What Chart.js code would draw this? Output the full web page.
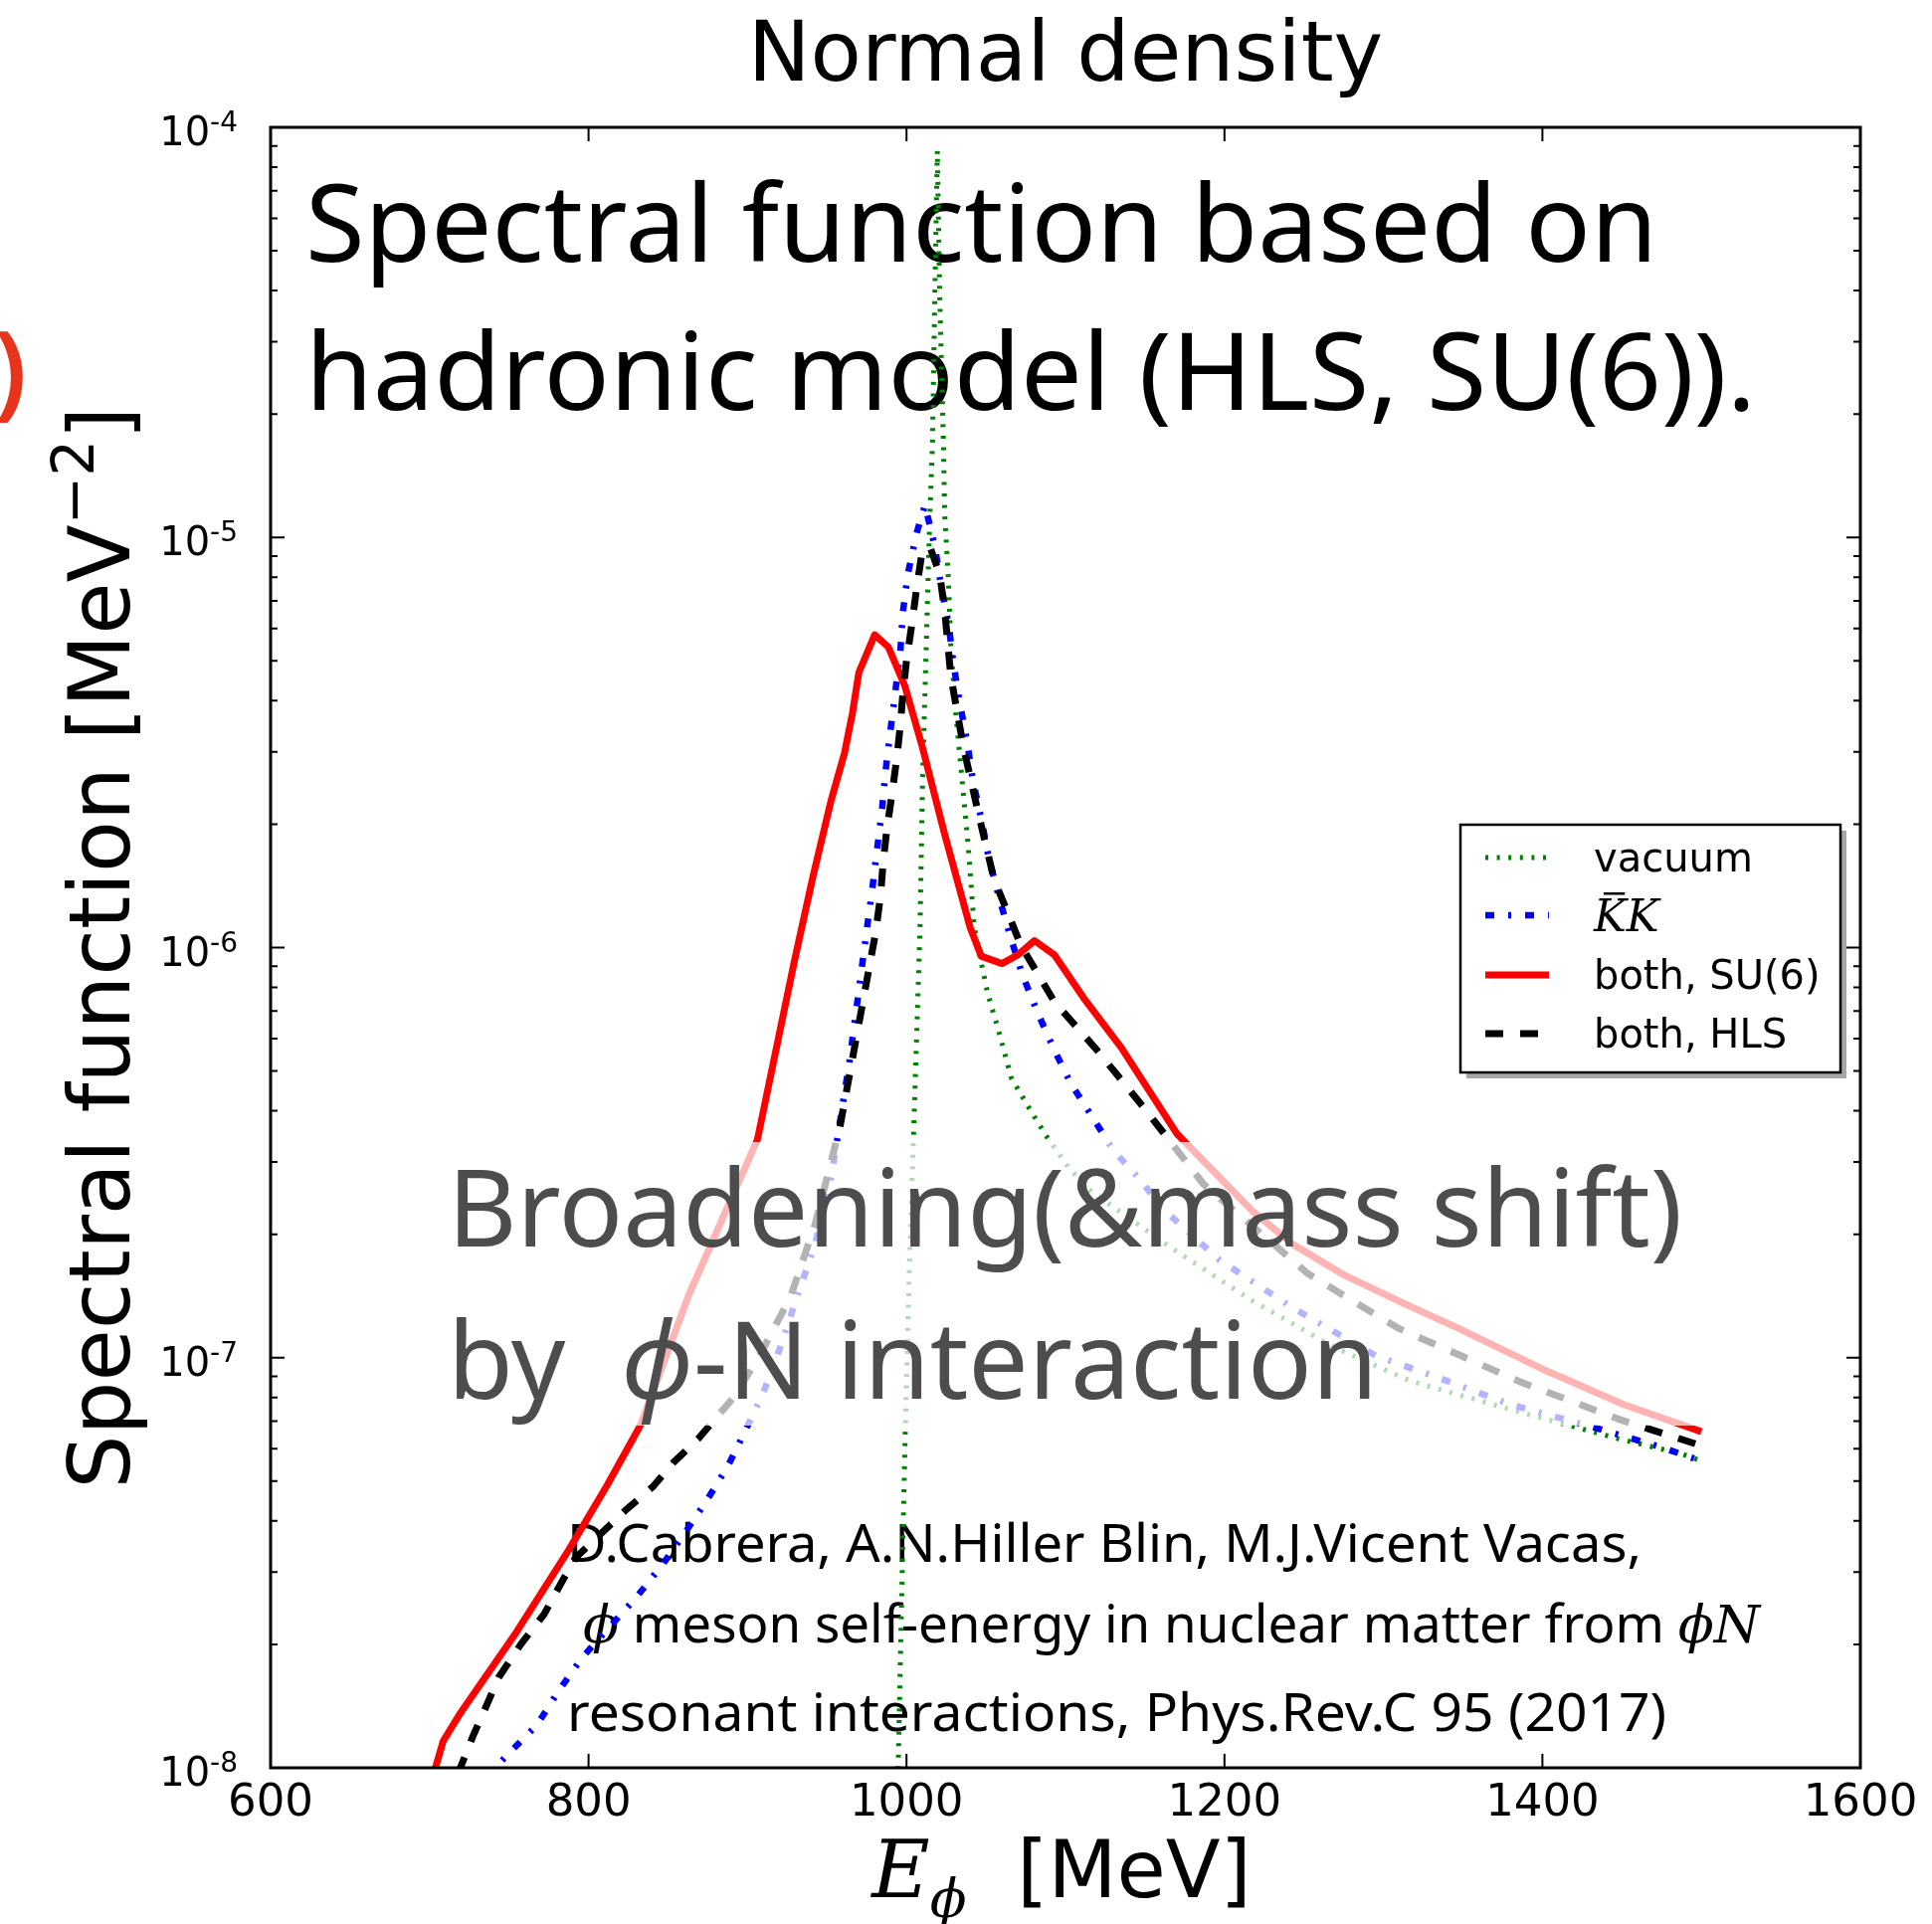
<!DOCTYPE html>
<html>
<head>
<meta charset="utf-8">
<title>Normal density</title>
<script src="https://cdn.jsdelivr.net/npm/chart.js@4.4.1/dist/chart.umd.min.js"></script>
<style>
  html, body { margin: 0; padding: 0; background: #fff; }
  #wrap { width: 1942px; height: 1934px; position: relative; }
</style>
</head>
<body>
<div id="wrap"><canvas id="spectralChart"></canvas></div>
<script>
// axis ticks
const xTicks = [600, 800, 1000, 1200, 1400, 1600]
const yDecades = [-8, -7, -6, -5, -4]
const xMin = 600, xMax = 1600, yMin = 1e-8, yMax = 1e-4

// vacuum
const vacuumE = [994.6, 996.9, 999.2, 1001.6, 1004.7, 1008.5, 1010.1, 1012.4, 1014.7, 1016.3, 1017.8, 1019.4, 1020.9, 1023.3, 1024.0, 1026.4, 1027.9, 1031.0, 1034.9, 1038.8, 1042.6, 1047.3, 1051.2, 1057.4, 1065.9, 1078.3, 1088.4, 1101.6, 1114.0, 1165.9, 1217.1, 1269.0, 1317.1, 1390.7, 1448.1, 1487.6, 1500]
const vacuumA = [9.3e-9, 2.54e-8, 6.56e-8, 1.55e-7, 3.77e-7, 1.11e-6, 2.58e-6, 5.41e-6, 1.14e-5, 1.66e-5, 3.88e-5, 8.77e-5, 3.88e-5, 1.66e-5, 1.14e-5, 7.85e-6, 5.41e-6, 3.72e-6, 2.58e-6, 1.77e-6, 1.12e-6, 9.08e-7, 7.69e-7, 6.38e-7, 4.81e-7, 3.99e-7, 3.45e-7, 2.92e-7, 2.58e-7, 1.86e-7, 1.38e-7, 1.06e-7, 8.77e-8, 7.28e-8, 6.34e-8, 5.83e-8, 5.6e-8]

// KbarK
const kkE = [735.7, 750.4, 767.4, 782.2, 796.1, 830.2, 846.5, 861.2, 874.4, 887.6, 898.4, 910.1, 920.2, 931.8, 942.6, 952.7, 964.3, 975.2, 978.3, 981.4, 984.5, 986.8, 989.9, 993.0, 996.1, 997.7, 1000.8, 1006.2, 1011.6, 1017.8, 1021.7, 1026.4, 1029.5, 1033.3, 1038.0, 1041.9, 1047.3, 1051.9, 1058.1, 1065.1, 1072.9, 1082.2, 1092.2, 1103.1, 1117.1, 1130.2, 1147.3, 1160.5, 1196.9, 1243.4, 1295.3, 1334.1, 1379.8, 1427.9, 1475.2, 1500]
const kkA = [9.5e-9, 1.09e-8, 1.27e-8, 1.56e-8, 1.86e-8, 2.61e-8, 3.13e-8, 3.77e-8, 4.49e-8, 5.44e-8, 6.61e-8, 8.24e-8, 1.05e-7, 1.43e-7, 1.90e-7, 2.76e-7, 5.33e-7, 1.12e-6, 1.37e-6, 1.73e-6, 2.15e-6, 2.69e-6, 3.38e-6, 4.22e-6, 5.26e-6, 6.56e-6, 8.13e-6, 1.02e-5, 1.20e-5, 9.52e-6, 7.64e-6, 6.17e-6, 4.94e-6, 3.99e-6, 3.20e-6, 2.54e-6, 2.04e-6, 1.64e-6, 1.33e-6, 1.07e-6, 8.59e-7, 6.98e-7, 5.71e-7, 4.68e-7, 3.85e-7, 3.20e-7, 2.71e-7, 2.32e-7, 1.73e-7, 1.32e-7, 1.01e-7, 8.95e-8, 7.69e-8, 6.84e-8, 6.04e-8, 5.6e-8]

// both, SU(6)
const su6E = [702, 708.5, 719.4, 753.5, 787.6, 811.6, 832.6, 863.3, 906.2, 929.5, 941, 952.5, 961, 966, 970, 980, 988.5, 999, 1010, 1024, 1040, 1047, 1060, 1070, 1080.5, 1093, 1111.5, 1135, 1170, 1218, 1243, 1274, 1312, 1347, 1403, 1451, 1500]
const su6A = [9.5e-9, 1.16e-8, 1.36e-8, 2.11e-8, 3.40e-8, 4.88e-8, 6.84e-8, 1.43e-7, 3.40e-7, 9.27e-7, 1.48e-6, 2.28e-6, 2.98e-6, 3.73e-6, 4.68e-6, 5.79e-6, 5.41e-6, 4.34e-6, 3.08e-6, 1.89e-6, 1.12e-6, 9.53e-7, 9.14e-7, 9.6e-7, 1.04e-6, 9.6e-7, 7.53e-7, 5.71e-7, 3.52e-7, 2.27e-7, 1.89e-7, 1.60e-7, 1.36e-7, 1.18e-7, 9.27e-8, 7.69e-8, 6.6e-8]

// both, HLS
const hlsE = [717.8, 727.1, 734.1, 743.4, 757.4, 772.1, 781.4, 791.5, 822.5, 840.3, 853.5, 869.0, 890.7, 907.0, 927.1, 942.6, 958.1, 980.6, 983.7, 985.3, 987.6, 990.7, 993.8, 996.1, 997.7, 1000.0, 1003.1, 1006.2, 1009.3, 1014.7, 1020.9, 1024.0, 1027.9, 1035.7, 1045.0, 1055.0, 1072.1, 1093.0, 1120.2, 1147.3, 1162.0, 1186.8, 1252.7, 1309.3, 1386.8, 1448.1, 1500]
const hlsA = [9.66e-9, 1.19e-8, 1.37e-8, 1.66e-8, 2.00e-8, 2.37e-8, 2.76e-8, 3.24e-8, 4.22e-8, 4.84e-8, 5.56e-8, 6.34e-8, 7.96e-8, 1.00e-7, 1.41e-7, 2.12e-7, 3.65e-7, 1.09e-6, 1.34e-6, 1.61e-6, 1.94e-6, 2.34e-6, 2.88e-6, 3.47e-6, 4.16e-6, 5.01e-6, 6.04e-6, 7.43e-6, 8.95e-6, 9.5e-6, 8.13e-6, 6.65e-6, 4.58e-6, 3.10e-6, 2.14e-6, 1.47e-6, 1.01e-6, 7.38e-7, 5.60e-7, 4.16e-7, 3.52e-7, 2.65e-7, 1.60e-7, 1.18e-7, 8.71e-8, 7.08e-8, 6.1e-8]

const seriesLabels = ["vacuum", "KK", "both, SU(6)", "both, HLS"]

const headline = ["Spectral function based on", "hadronic model (HLS, SU(6))."]

const SANS = '"DejaVu Sans", sans-serif'
const KEY = '"Noto Sans", "DejaVu Sans", sans-serif'
const SERIF_I = 'italic {s}px "DejaVu Serif", serif'

function toPoints(es, as) {
  return es.map((e, i) => ({ x: e, y: as[i] }))
}

function serifItalic(size) {
  return SERIF_I.replace("{s}", size)
}

// draws a row of text pieces, squeezed to a given width if asked
function drawRow(ctx, parts, x, baseline, width) {
  let total = 0
  parts.forEach(p => { ctx.font = p.font; total += ctx.measureText(p.text).width })
  const sx = width ? width / total : 1
  ctx.save()
  ctx.translate(x, baseline)
  ctx.scale(sx, 1)
  let cx = 0
  parts.forEach(p => {
    ctx.font = p.font
    ctx.fillText(p.text, cx, p.dy || 0)
    cx += ctx.measureText(p.text).width
  })
  ctx.restore()
  return total * sx
}

const decor = {
  id: "decor",
  beforeDraw(chart) {
    const ctx = chart.ctx
    ctx.save()
    ctx.fillStyle = "#fff"
    ctx.fillRect(0, 0, chart.width, chart.height)
    ctx.restore()
  },
  beforeDatasetsDraw(chart) {
    const ctx = chart.ctx
    ctx.save()
    ctx.fillStyle = "#000"
    ctx.textAlign = "left"
    ctx.textBaseline = "alphabetic"
    drawRow(ctx, [{ text: headline[0], font: "108px " + KEY }], 307, 263, 1359)
    drawRow(ctx, [{ text: headline[1], font: "108px " + KEY }], 307, 412, 1458)

    // reference
    drawRow(ctx, [{ text: "D.Cabrera, A.N.Hiller Blin, M.J.Vicent Vacas,", font: "52px " + KEY }], 570, 1570, 1080)
    drawRow(ctx, [
      { text: "\u03d5", font: serifItalic(52) },
      { text: " meson self-energy in nuclear matter from ", font: "52px " + KEY },
      { text: "\u03d5N", font: serifItalic(52) }
    ], 586, 1651, 1183)
    drawRow(ctx, [{ text: "resonant interactions, Phys.Rev.C 95 (2017)", font: "52px " + KEY }], 570, 1740, 1105)

    // stray bracket at the left edge
    ctx.fillStyle = "#e8341c"
    ctx.textAlign = "right"
    ctx.font = "600 104px " + KEY
    ctx.fillText(")", 27, 408)
    ctx.restore()
  },
  afterDatasetsDraw(chart) {
    const ctx = chart.ctx
    const { left, right, top, bottom } = chart.chartArea
    const xs = chart.scales.x, ys = chart.scales.y
    ctx.save()

    // translucent box + grey note
    ctx.fillStyle = "rgba(255,255,255,0.7)"
    ctx.fillRect(446, 1148, 1257, 285)
    ctx.fillStyle = "#4d4d4d"
    ctx.textAlign = "left"
    drawRow(ctx, [{ text: "Broadening(&mass shift)", font: "108px " + KEY }], 450, 1253, 1241)
    drawRow(ctx, [
      { text: "by  ", font: "108px " + KEY },
      { text: "\u03d5", font: "italic 108px " + KEY },
      { text: "-N interaction", font: "108px " + KEY }
    ], 450, 1406, 935)

    // ticks (pointing inward on all sides)
    ctx.strokeStyle = "#000"
    ctx.lineWidth = 2
    ctx.beginPath()
    xTicks.forEach(v => {
      const px = xs.getPixelForValue(v)
      ctx.moveTo(px, bottom); ctx.lineTo(px, bottom - 14)
      ctx.moveTo(px, top); ctx.lineTo(px, top + 14)
    })
    yDecades.forEach(d => {
      for (let m = 1; m <= 9; m++) {
        const v = m * Math.pow(10, d)
        if (v > yMax * 1.0001) break
        const len = m === 1 ? 14 : 7
        const py = ys.getPixelForValue(v)
        ctx.moveTo(left, py); ctx.lineTo(left + len, py)
        ctx.moveTo(right, py); ctx.lineTo(right - len, py)
      }
    })
    ctx.stroke()
    ctx.lineWidth = 3
    ctx.strokeRect(left, top, right - left, bottom - top)

    // legend
    const box = { x: 1468, y: 829, w: 382, h: 249 }
    const rows = [862, 920, 980, 1039]
    ctx.fillStyle = "rgba(0,0,0,0.35)"
    ctx.fillRect(box.x + 6, box.y + 6, box.w, box.h)
    ctx.fillStyle = "#fff"
    ctx.fillRect(box.x, box.y, box.w, box.h)
    ctx.lineWidth = 2.5
    ctx.strokeStyle = "#000"
    ctx.strokeRect(box.x, box.y, box.w, box.h)
    chart.data.datasets.forEach((d, i) => {
      const y = rows[i]
      ctx.save()
      ctx.strokeStyle = d.borderColor
      ctx.lineWidth = d.borderWidth
      ctx.setLineDash(d.borderDash || [])
      ctx.lineCap = "butt"
      ctx.beginPath()
      ctx.moveTo(box.x + 25, y)
      ctx.lineTo(box.x + 89, y)
      ctx.stroke()
      ctx.restore()
      ctx.fillStyle = "#000"
      if (d.label === "KK") {
        ctx.font = serifItalic(44)
        const kw = ctx.measureText("K").width
        ctx.fillText("KK", box.x + 134, y + 16)
        ctx.fillRect(box.x + 134 + kw * 0.3, y - 23, kw * 0.65, 2.5)
      } else {
        ctx.font = "40px " + SANS
        ctx.fillText(d.label, box.x + 134, y + 14)
      }
    })
    ctx.restore()
  },
  afterDraw(chart) {
    const ctx = chart.ctx
    const { left, right, top, bottom } = chart.chartArea
    const xs = chart.scales.x, ys = chart.scales.y
    const cx = (left + right) / 2
    ctx.save()
    ctx.fillStyle = "#000"

    // x tick labels
    ctx.font = "45px " + SANS
    ctx.textAlign = "center"
    xTicks.forEach(v => ctx.fillText(String(v), xs.getPixelForValue(v), bottom + 48))

    // y tick labels 10^n
    ctx.textAlign = "left"
    yDecades.forEach(d => {
      const py = ys.getPixelForValue(Math.pow(10, d))
      const sup = "-" + Math.abs(d)
      ctx.font = "28px " + SANS
      const sw = ctx.measureText(sup).width
      ctx.font = "40px " + SANS
      const bw = ctx.measureText("10").width
      const end = left - 33
      ctx.fillText("10", end - sw - bw, py + 18)
      ctx.font = "28px " + SANS
      ctx.fillText(sup, end - sw, py + 4)
    })

    // title
    ctx.textAlign = "center"
    ctx.font = "84px " + SANS
    ctx.fillText("Normal density", cx, 81)

    // x axis title
    ctx.textAlign = "left"
    const xParts = [
      { text: "E", font: serifItalic(80) },
      { text: "\u03d5", font: serifItalic(54), dy: 20 },
      { text: "  [MeV]", font: "80px " + SANS }
    ]
    let w = 0
    xParts.forEach(p => { ctx.font = p.font; w += ctx.measureText(p.text).width })
    drawRow(ctx, xParts, cx - w / 2 - 4, 1907)

    // y axis title
    ctx.save()
    ctx.translate(130, (top + bottom) / 2)
    ctx.rotate(-Math.PI / 2)
    const yParts = [
      { text: "Spectral function [MeV", font: "85px " + SANS },
      { text: "\u22122", font: "58px " + SANS, dy: -36 },
      { text: "]", font: "85px " + SANS }
    ]
    let yw = 0
    yParts.forEach(p => { ctx.font = p.font; yw += ctx.measureText(p.text).width })
    drawRow(ctx, yParts, -yw / 2, 0)
    ctx.restore()

    ctx.restore()
  }
}

const ctx = document.getElementById("spectralChart").getContext("2d")

new Chart(ctx, {
  type: "line",
  data: {
    datasets: [
      {
        label: seriesLabels[0],
        data: toPoints(vacuumE, vacuumA),
        borderColor: "#008000",
        borderWidth: 5,
        borderDash: [3, 8.6],
        order: 4
      },
      {
        label: seriesLabels[1],
        data: toPoints(kkE, kkA),
        borderColor: "#0000ff",
        borderWidth: 6.5,
        borderDash: [9, 14, 3, 14],
        order: 3
      },
      {
        label: seriesLabels[2],
        data: toPoints(su6E, su6A),
        borderColor: "#ff0000",
        borderWidth: 7,
        borderDash: [],
        order: 2
      },
      {
        label: seriesLabels[3],
        data: toPoints(hlsE, hlsA),
        borderColor: "#000000",
        borderWidth: 7,
        borderDash: [18, 17],
        order: 1
      }
    ]
  },
  options: {
    responsive: true,
    maintainAspectRatio: false,
    devicePixelRatio: 1,
    animation: false,
    events: [],
    layout: { padding: { left: 272, top: 128, right: 72, bottom: 157 } },
    datasets: { line: { clip: 0, pointRadius: 0, tension: 0, fill: false, borderCapStyle: "butt", borderJoinStyle: "round" } },
    plugins: {
      legend: { display: false },
      title: { display: false },
      tooltip: { enabled: false }
    },
    scales: {
      x: { type: "linear", min: xMin, max: xMax, display: false },
      y: { type: "logarithmic", min: yMin, max: yMax, display: false }
    }
  },
  plugins: [decor]
})
</script>
</body>
</html>
